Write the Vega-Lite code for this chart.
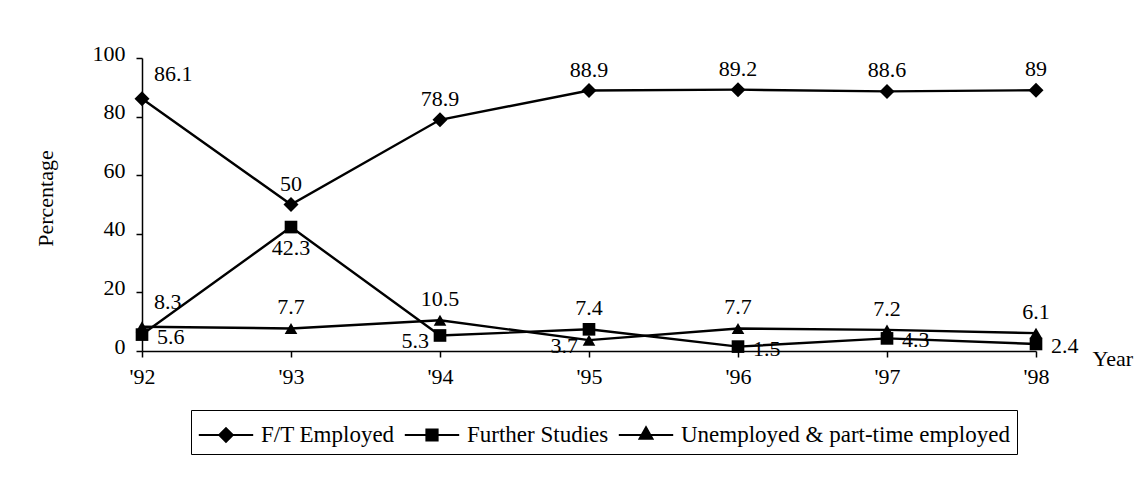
{
  "$schema": "https://vega.github.io/schema/vega-lite/v6.json",
  "width": 894,
  "height": 293,
  "autosize": {"type": "none"},
  "padding": {"left": 142, "top": 58, "right": 101, "bottom": 146},
  "background": "white",
  "config": {
    "font": "Liberation Serif",
    "view": {"stroke": null},
    "axis": {
      "labelFont": "Liberation Serif",
      "titleFont": "Liberation Serif",
      "labelFontSize": 22,
      "titleFontSize": 22,
      "labelColor": "black",
      "titleColor": "black",
      "titleFontWeight": "normal",
      "domainColor": "black",
      "tickColor": "black",
      "domainWidth": 1.5,
      "tickWidth": 1.5,
      "grid": false
    },
    "legend": {
      "labelFont": "Liberation Serif",
      "labelFontSize": 23,
      "labelColor": "black",
      "labelLimit": 500,
      "symbolStrokeColor": "black",
      "symbolStrokeWidth": 2
    }
  },
  "data": {
    "values": [
      {"year": "'92", "series": "F/T Employed", "value": 86.1},
      {"year": "'93", "series": "F/T Employed", "value": 50},
      {"year": "'94", "series": "F/T Employed", "value": 78.9},
      {"year": "'95", "series": "F/T Employed", "value": 88.9},
      {"year": "'96", "series": "F/T Employed", "value": 89.2},
      {"year": "'97", "series": "F/T Employed", "value": 88.6},
      {"year": "'98", "series": "F/T Employed", "value": 89},
      {"year": "'92", "series": "Further Studies", "value": 5.6},
      {"year": "'93", "series": "Further Studies", "value": 42.3},
      {"year": "'94", "series": "Further Studies", "value": 5.3},
      {"year": "'95", "series": "Further Studies", "value": 7.4},
      {"year": "'96", "series": "Further Studies", "value": 1.5},
      {"year": "'97", "series": "Further Studies", "value": 4.3},
      {"year": "'98", "series": "Further Studies", "value": 2.4},
      {"year": "'92", "series": "Unemployed & part-time employed", "value": 8.3},
      {"year": "'93", "series": "Unemployed & part-time employed", "value": 7.7},
      {"year": "'94", "series": "Unemployed & part-time employed", "value": 10.5},
      {"year": "'95", "series": "Unemployed & part-time employed", "value": 3.7},
      {"year": "'96", "series": "Unemployed & part-time employed", "value": 7.7},
      {"year": "'97", "series": "Unemployed & part-time employed", "value": 7.2},
      {"year": "'98", "series": "Unemployed & part-time employed", "value": 6.1}
    ]
  },
  "encoding": {
    "x": {
      "field": "year",
      "type": "ordinal",
      "sort": null,
      "scale": {"type": "point", "padding": 0, "domain": ["'92", "'93", "'94", "'95", "'96", "'97", "'98"]},
      "axis": {
        "title": "Year",
        "labelAngle": 0,
        "tickSize": 6,
        "labelPadding": 9,
        "titleX": 950,
        "titleY": 7,
        "titleAlign": "left",
        "titleBaseline": "middle"
      }
    },
    "y": {
      "field": "value",
      "type": "quantitative",
      "scale": {"domain": [0, 100], "nice": false},
      "axis": {
        "values": [0, 20, 40, 60, 80, 100],
        "title": "Percentage",
        "tickSize": 6,
        "labelPadding": 11,
        "labelOffset": -5,
        "titleX": -97,
        "titleY": 140,
        "titleAngle": -90,
        "titleAlign": "center",
        "titleBaseline": "middle"
      }
    }
  },
  "layer": [
    {
      "mark": {"type": "line", "color": "black", "strokeWidth": 2.4},
      "encoding": {"detail": {"field": "series", "type": "nominal"}}
    },
    {
      "transform": [{"filter": {"field": "series", "equal": "F/T Employed"}}],
      "mark": {"type": "point", "shape": "diamond", "filled": true, "color": "black", "size": 225, "opacity": 1}
    },
    {
      "transform": [{"filter": {"field": "series", "equal": "Further Studies"}}],
      "mark": {"type": "point", "shape": "square", "filled": true, "color": "black", "size": 160, "opacity": 1}
    },
    {
      "transform": [{"filter": {"field": "series", "equal": "Unemployed & part-time employed"}}],
      "mark": {"type": "point", "shape": "triangle-up", "filled": true, "color": "black", "size": 160, "opacity": 1}
    },
    {
      "mark": {"type": "point", "filled": true, "color": "black", "strokeWidth": 2, "opacity": 0},
      "encoding": {
        "shape": {
          "field": "series",
          "type": "nominal",
          "sort": ["F/T Employed", "Further Studies", "Unemployed & part-time employed"],
          "scale": {
            "domain": ["F/T Employed", "Further Studies", "Unemployed & part-time employed"],
            "range": [
              "M-1.6,0L1.6,0M0,-0.4L0.4,0L0,0.4L-0.4,0Z",
              "M-1.6,0L1.6,0M-0.33,-0.33L0.33,-0.33L0.33,0.33L-0.33,0.33Z",
              "M-1.6,0L1.6,0M0,-0.45L0.38,0.22L-0.38,0.22Z"
            ]
          },
          "legend": {
            "title": null,
            "orient": "none",
            "legendX": 49,
            "legendY": 352,
            "direction": "horizontal",
            "columns": 3,
            "symbolSize": 1156,
            "symbolOffset": 10,
            "strokeColor": "black",
            "fillColor": "white",
            "padding": 7,
            "columnPadding": 5,
            "labelOffset": 17,
            "encoding": {
              "symbols": {
                "stroke": {"value": "black"},
                "strokeWidth": {"value": 2},
                "fill": {"value": "black"},
                "opacity": {"value": 1}
              }
            }
          }
        }
      }
    },
    {
      "transform": [{"filter": {"not": {"or": [
        {"and": [{"field": "year", "equal": "'92"}, {"field": "series", "oneOf": ["F/T Employed", "Unemployed & part-time employed"]}]},
        {"and": [{"field": "year", "equal": "'93"}, {"field": "series", "equal": "Further Studies"}]},
        {"and": [{"field": "series", "equal": "Further Studies"}, {"field": "year", "oneOf": ["'92", "'96", "'97", "'98"]}]},
        {"and": [{"field": "series", "equal": "Further Studies"}, {"field": "year", "equal": "'94"}]},
        {"and": [{"field": "series", "equal": "Unemployed & part-time employed"}, {"field": "year", "equal": "'95"}]}
      ]}}}],
      "mark": {"type": "text", "fontSize": 22, "font": "Liberation Serif", "color": "black", "align": "center", "baseline": "middle", "dy": -21},
      "encoding": {"text": {"field": "value", "type": "nominal"}}
    },
    {
      "transform": [{"filter": {"and": [{"field": "year", "equal": "'92"}, {"field": "series", "oneOf": ["F/T Employed", "Unemployed & part-time employed"]}]}}],
      "mark": {"type": "text", "fontSize": 22, "font": "Liberation Serif", "color": "black", "align": "left", "baseline": "middle", "dx": 12, "dy": -25},
      "encoding": {"text": {"field": "value", "type": "nominal"}}
    },
    {
      "transform": [{"filter": {"and": [{"field": "year", "equal": "'93"}, {"field": "series", "equal": "Further Studies"}]}}],
      "mark": {"type": "text", "fontSize": 22, "font": "Liberation Serif", "color": "black", "align": "center", "baseline": "middle", "dy": 21},
      "encoding": {"text": {"field": "value", "type": "nominal"}}
    },
    {
      "transform": [{"filter": {"and": [{"field": "series", "equal": "Further Studies"}, {"field": "year", "oneOf": ["'92", "'96", "'97", "'98"]}]}}],
      "mark": {"type": "text", "fontSize": 22, "font": "Liberation Serif", "color": "black", "align": "left", "baseline": "middle", "dx": 15, "dy": 2},
      "encoding": {"text": {"field": "value", "type": "nominal"}}
    },
    {
      "transform": [{"filter": {"or": [
        {"and": [{"field": "series", "equal": "Further Studies"}, {"field": "year", "equal": "'94"}]},
        {"and": [{"field": "series", "equal": "Unemployed & part-time employed"}, {"field": "year", "equal": "'95"}]}
      ]}}],
      "mark": {"type": "text", "fontSize": 22, "font": "Liberation Serif", "color": "black", "align": "right", "baseline": "middle", "dx": -11, "dy": 6},
      "encoding": {"text": {"field": "value", "type": "nominal"}}
    }
  ]
}
